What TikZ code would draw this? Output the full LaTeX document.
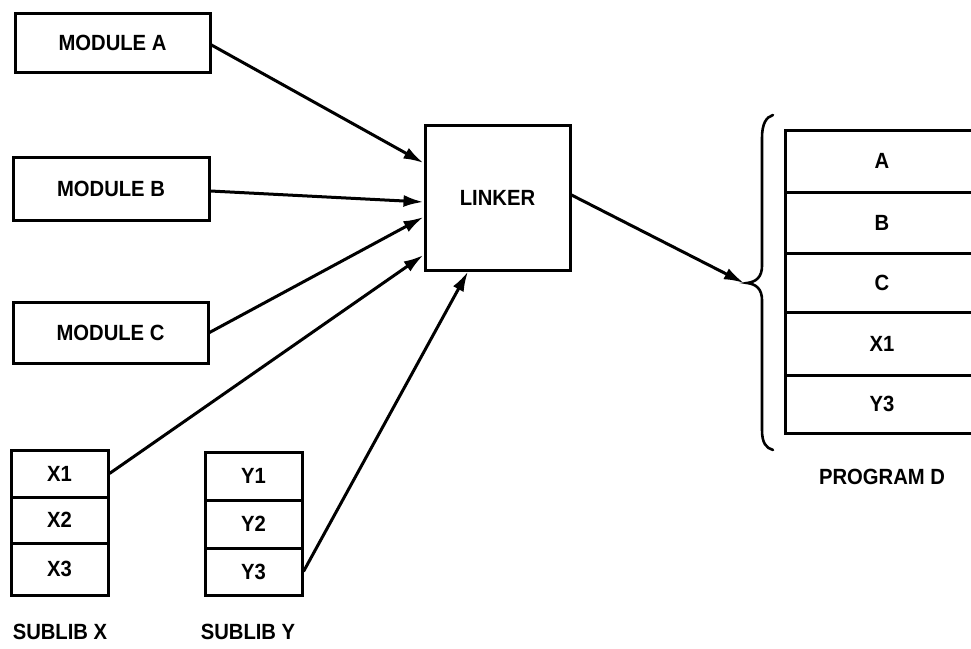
\documentclass[tikz,border=0pt]{standalone}
\usepackage{fontspec}
\setmainfont{Liberation Sans}[FakeStretch=0.92]
\usetikzlibrary{arrows.meta}
\tikzset{
  every node/.style={font=\fontsize{22}{26}\selectfont\bfseries},
  box/.style={draw, line width=3pt, rectangle, inner sep=0pt, minimum width=#1},
  box/.default=195pt,
  cell/.style={draw, line width=3pt, rectangle, inner sep=0pt, minimum width=97pt},
  pcell/.style={draw, line width=3pt, rectangle, inner sep=0pt, minimum width=194pt},
  conn/.style={line width=3pt, -{Latex[length=20pt,width=12pt]}},
  lbl/.style={inner sep=0pt}
}
\begin{document}
\begin{tikzpicture}[x=1pt,y=-1pt]
\useasboundingbox (0,0) rectangle (971,648);
\clip (0,0) rectangle (971,648);
% modules
\node[box, minimum height=59pt] (modA) at (112.5,42.5) {MODULE A};
\node[box=196pt, minimum height=63pt] (modB) at (111,188.5) {MODULE B};
\node[box, minimum height=61pt] (modC) at (110.5,332.5) {MODULE C};
% linker
\node[box=145pt, minimum height=145pt] (linker) at (497.5,197.5) {LINKER};
% sublib X
\node[cell, minimum height=47pt] (x1) at (59.5,473.5) {X1};
\node[cell, minimum height=46pt] (x2) at (59.5,520) {X2};
\node[cell, minimum height=52pt] (x3) at (59.5,569) {X3};
\node[lbl] (sublibx) at (60,632) {SUBLIB X};
% sublib Y
\node[cell, minimum height=48pt] (y1) at (253.5,476) {Y1};
\node[cell, minimum height=48pt] (y2) at (253.5,524) {Y2};
\node[cell, minimum height=47pt] (y3) at (253.5,571.5) {Y3};
\node[lbl] (subliby) at (248,632) {SUBLIB Y};
% program D
\node[pcell, minimum height=62pt] (pa) at (882,161) {A};
\node[pcell, minimum height=61pt] (pb) at (882,222.5) {B};
\node[pcell, minimum height=59pt] (pc) at (882,282.5) {C};
\node[pcell, minimum height=63pt] (px) at (882,343.5) {X1};
\node[pcell, minimum height=58pt] (py) at (882,404) {Y3};
\node[lbl] (progd) at (882,477) {PROGRAM D};
% brace
\coordinate (btip) at (747,283);
\draw[line width=2.6pt, line cap=round]
  (773,115) .. controls (766,117) and (762,124) .. (762,138)
  -- (762,266) .. controls (762,277) and (756,282) .. (btip)
  .. controls (756,284) and (762,289) .. (762,300)
  -- (762,430) .. controls (762,443) and (766,448) .. (773,450);
% connectors
\draw[conn] ([yshift=-2.5pt]modA.east) -- ([yshift=34.5pt]linker.west);
\draw[conn] ([yshift=-2.5pt]modB.east) -- ([yshift=-4.5pt]linker.west);
\draw[conn] (modC.east) -- ([yshift=-19.5pt]linker.west);
\draw[conn] (x1.east) -- ([yshift=-57.5pt]linker.west);
\draw[conn] (y3.east) -- ([xshift=-29.5pt]linker.south);
\draw[conn] ([yshift=2.5pt]linker.east) -- ([xshift=-3pt]btip);
\end{tikzpicture}
\end{document}
